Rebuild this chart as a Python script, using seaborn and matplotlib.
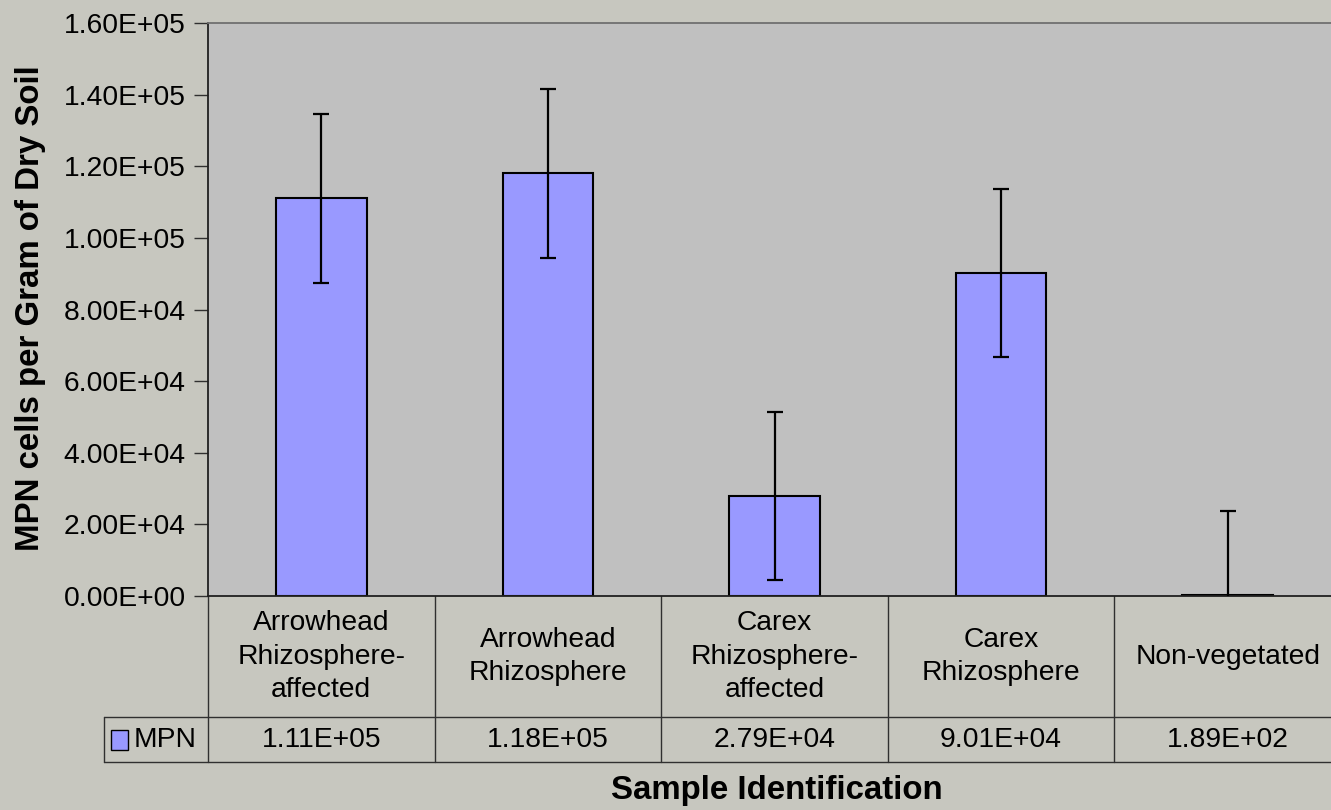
import matplotlib
matplotlib.use("Agg")
import matplotlib.pyplot as plt
import matplotlib.transforms as mtransforms
from matplotlib.patches import Rectangle
from matplotlib.ticker import FuncFormatter, MultipleLocator
import seaborn as sns
import pandas as pd

# ---- data ----
categories = ["Arrowhead\nRhizosphere-\naffected", "Arrowhead\nRhizosphere",
              "Carex\nRhizosphere-\naffected", "Carex\nRhizosphere", "Non-vegetated"]
mpn_values = [1.11e5, 1.18e5, 2.79e4, 9.01e4, 1.89e2]
mpn_errors = [2.35e4, 2.35e4, 2.35e4, 2.35e4, 2.35e4]
value_labels = ["1.11E+05", "1.18E+05", "2.79E+04", "9.01E+04", "1.89E+02"]
series_name = "MPN"
y_label = "MPN cells per Gram of Dry Soil"
x_label = "Sample Identification"

sns.set_theme(style="white")
plt.rcParams["font.family"] = ["Liberation Sans", "DejaVu Sans"]

BG = "#C7C7BF"
PLOT_BG = "#C0C0C0"
BAR = "#9999FF"
FS = 20.3

W, H = 1331, 810
fig = plt.figure(figsize=(W / 100, H / 100), dpi=100, facecolor=BG)
ax = fig.add_axes([208 / W, (H - 596) / H, (1341 - 208) / W, 573 / H])
ax.set_facecolor(PLOT_BG)

df = pd.DataFrame({"cat": categories, "val": mpn_values})
sns.barplot(data=df, x="cat", y="val", order=categories, color=BAR, saturation=1,
            width=0.4, edgecolor="black", linewidth=1.5, errorbar=None, ax=ax)
ax.errorbar(range(len(categories)), mpn_values, yerr=mpn_errors, fmt="none",
            ecolor="black", elinewidth=1.6, capsize=6, capthick=1.6, zorder=5)

ax.set_xlim(-0.5, len(categories) - 0.5)
ax.set_ylim(0, 1.6e5)
ax.yaxis.set_major_locator(MultipleLocator(2e4))
ax.yaxis.set_major_formatter(FuncFormatter(lambda v, p: f"{v:.2E}"))
ax.tick_params(axis="y", which="major", direction="out", length=10, width=1,
               color="#303030", labelsize=FS, labelcolor="black", pad=6, left=True)
ax.tick_params(axis="x", bottom=False, labelbottom=False)
ax.set_xlabel("")
ax.set_ylabel("")

for side in ["left", "bottom"]:
    ax.spines[side].set_visible(True)
    ax.spines[side].set_color("#202020")
    ax.spines[side].set_linewidth(1.3)
ax.spines["top"].set_color("#707070")
ax.spines["top"].set_linewidth(1.3)
ax.spines["right"].set_visible(False)

# ---- data table below the plot ----
blend = mtransforms.blended_transform_factory(ax.transData, ax.transAxes)
row_mid = -0.2112
row_bot = -0.2897
hdr_c = -0.1056
val_c = -0.2513
lc = "#303030"
for k in range(len(categories) + 1):
    ax.plot([k - 0.5, k - 0.5], [0, row_bot], transform=blend, color=lc,
            lw=1.0, clip_on=False)
leftx = (104 - 208) / 1133
for yy in (row_mid, row_bot):
    ax.plot([leftx, 1.0], [yy, yy], transform=ax.transAxes, color=lc, lw=1.0,
            clip_on=False)
ax.plot([leftx, leftx], [row_mid, row_bot], transform=ax.transAxes, color=lc,
        lw=1.0, clip_on=False)

for i, (c, v) in enumerate(zip(categories, value_labels)):
    ax.text(i, hdr_c, c, transform=blend, ha="center", va="center", fontsize=FS,
            linespacing=1.38, color="black")
    ax.text(i, val_c, v, transform=blend, ha="center", va="center", fontsize=FS,
            color="black")

ax.add_patch(Rectangle(((111 - 208) / 1133, val_c - 0.017), 17 / 1133, 0.034,
                       transform=ax.transAxes, facecolor=BAR, edgecolor="black",
                       lw=1.0, clip_on=False))
ax.text((134 - 208) / 1133, val_c, series_name, transform=ax.transAxes,
        ha="left", va="center", fontsize=FS, color="black")

fig.text(31 / W, 1 - 308 / H, y_label, rotation=90, ha="center", va="center",
         fontsize=23.8, fontweight="bold", color="black")
fig.text(777 / W, 1 - 790 / H, x_label, ha="center", va="center",
         fontsize=23.8, fontweight="bold", color="black")

fig.savefig("out.png", dpi=100, facecolor=BG)
